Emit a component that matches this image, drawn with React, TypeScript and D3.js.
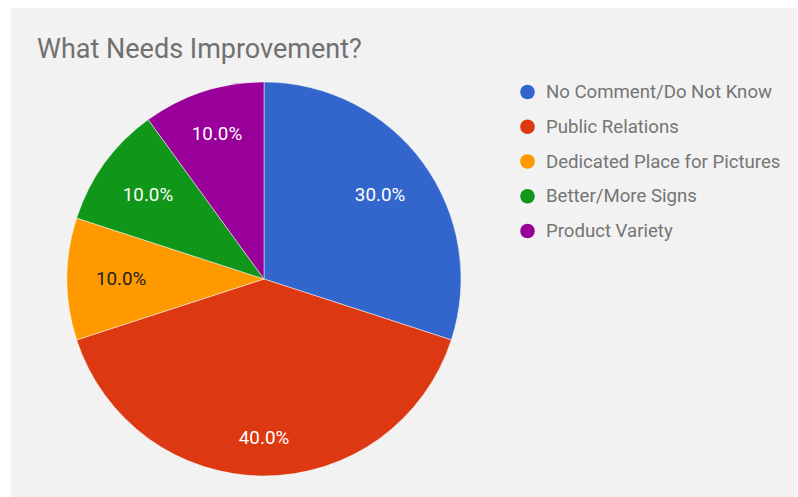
import React from "react";
import * as d3 from "d3";

const categories = [
  "No Comment/Do Not Know",
  "Public Relations",
  "Dedicated Place for Pictures",
  "Better/More Signs",
  "Product Variety",
];
const values = [30, 40, 10, 10, 10];
const colors = ["#3366cc", "#dc3912", "#ff9900", "#109618", "#990099"];
const labelColors = ["#ffffff", "#ffffff", "#222222", "#ffffff", "#ffffff"];
const title = "What Needs Improvement?";

const W = 798;
const H = 497;
const cx = 264;
const cy = 279;
const R = 197;
const FONT = "Roboto, 'Noto Sans', Arial, sans-serif";

export default function App() {
  const total = d3.sum(values);
  const pie = d3
    .pie<number>()
    .sort(null)
    .value((d) => d)
    .startAngle(0)
    .endAngle(2 * Math.PI);
  const arcs = pie(values);
  const arcGen = d3.arc<d3.PieArcDatum<number>>().innerRadius(0).outerRadius(R);
  const fmt = d3.format(".1%");

  const halfW = 25;
  const halfH = 7;
  const edge = R * 0.853;

  const legendY = d3
    .scalePoint<number>()
    .domain(d3.range(categories.length))
    .range([92, 231]);

  return (
    <svg
      width={W}
      height={H}
      style={{ position: "absolute", left: 0, top: 0, display: "block" }}
    >
      <rect x={0} y={0} width={W} height={H} fill="#ffffff" />
      <rect x={11} y={8} width={786} height={H - 8} fill="#f2f2f2" />
      <text
        x={37}
        y={57.5}
        fontFamily={FONT}
        fontSize={27}
        fill="#707070"
      >
        {title}
      </text>
      <g transform={`translate(${cx},${cy})`}>
        {arcs.map((a, i) => (
          <path
            key={i}
            d={arcGen(a) || ""}
            fill={colors[i]}
            stroke="#ffffff"
            strokeOpacity={0.6}
            strokeWidth={0.8}
          />
        ))}
        {arcs.map((a, i) => {
          const mid = (a.startAngle + a.endAngle) / 2;
          const sx = Math.sin(mid);
          const sy = -Math.cos(mid);
          const ax = Math.abs(sx);
          const ay = Math.abs(sy);
          // solve (ax*d + halfW)^2 + (ay*d + halfH)^2 = edge^2
          const b = 2 * (ax * halfW + ay * halfH);
          const c = halfW * halfW + halfH * halfH - edge * edge;
          const d = (-b + Math.sqrt(b * b - 4 * c)) / 2;
          return (
            <text
              key={i}
              x={sx * d}
              y={sy * d}
              textAnchor="middle"
              dominantBaseline="central"
              fontFamily={FONT}
              fontSize={18.8}
              fill={labelColors[i]}
            >
              {fmt(values[i] / total)}
            </text>
          );
        })}
      </g>
      <g>
        {categories.map((c, i) => (
          <g key={c} transform={`translate(0,${legendY(i)})`}>
            <circle cx={527.5} cy={0} r={7.3} fill={colors[i]} />
            <text
              x={546}
              y={0}
              dominantBaseline="central"
              fontFamily={FONT}
              fontSize={18.6}
              fill="#757575"
            >
              {c}
            </text>
          </g>
        ))}
      </g>
    </svg>
  );
}
